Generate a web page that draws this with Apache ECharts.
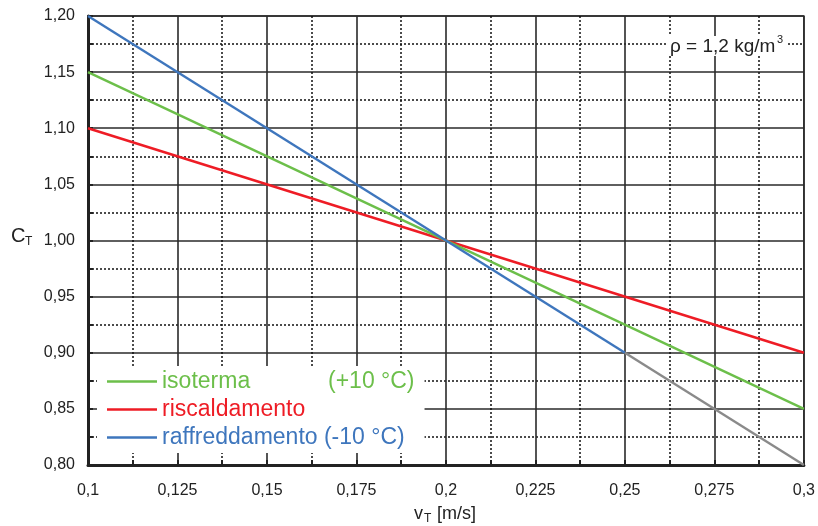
<!DOCTYPE html>
<html>
<head>
<meta charset="utf-8">
<script src="https://cdn.jsdelivr.net/npm/echarts@6/dist/echarts.min.js"></script>
<style>html,body{margin:0;padding:0;background:#fff}#c{width:818px;height:526px}</style>
</head>
<body>
<div id="c"></div>
<script>
// ---- data ----
const vT = [0.1, 0.3];
const isoterma = [1.15, 0.85];
const riscaldamento = [1.10, 0.90];
const raffreddamentoX = [0.1, 0.25];
const raffreddamento = [1.20, 0.90];
const prolungamentoX = [0.25, 0.3];
const prolungamento = [0.90, 0.80];
const seriesNames = ['isoterma', 'riscaldamento', 'raffreddamento'];

const zip = (xs, ys) => xs.map((x, i) => [x, ys[i]]);
const FONT = 'Liberation Sans, Arial, sans-serif';
const GREEN = '#6cbf4a', RED = '#ee1c25', BLUE = '#3e76bd', GREY = '#8a8a8a';

const chart = echarts.init(document.getElementById('c'));
chart.setOption({
  animation: false,
  backgroundColor: '#fff',
  grid: { left: 88, right: 12, top: 16, bottom: 61, show: true, borderColor: '#333', borderWidth: 1.5 },
  xAxis: {
    type: 'value', min: 0.1, max: 0.3, interval: 0.025,
    axisLine: { show: true, onZero: false, lineStyle: { color: '#222', width: 3 } },
    axisTick: { show: true, inside: true, length: 5, lineStyle: { color: '#222', width: 2 } },
    minorTick: { show: true, splitNumber: 2, length: 5, lineStyle: { color: '#222', width: 2 } },
    splitLine: { show: true, lineStyle: { color: '#2a2a2a', width: 1.6 } },
    minorSplitLine: { show: true, lineStyle: { color: '#111', width: 1.5, type: [2, 2] } },
    axisLabel: { margin: 18, color: '#222', fontSize: 16, fontFamily: FONT,
      formatter: v => String(parseFloat(v.toFixed(4))).replace('.', ',') }
  },
  yAxis: {
    type: 'value', min: 0.8, max: 1.2, interval: 0.05,
    axisLine: { show: true, onZero: false, lineStyle: { color: '#222', width: 3 } },
    axisTick: { show: true, inside: true, length: 5, lineStyle: { color: '#222', width: 2 } },
    minorTick: { show: true, splitNumber: 2, length: 5, lineStyle: { color: '#222', width: 2 } },
    splitLine: { show: true, lineStyle: { color: '#2a2a2a', width: 1.6 } },
    minorSplitLine: { show: true, lineStyle: { color: '#111', width: 1.5, type: [2, 2] } },
    axisLabel: { margin: 13, color: '#222', fontSize: 16, fontFamily: FONT,
      formatter: v => v.toFixed(2).replace('.', ',') }
  },
  legend: {
    orient: 'vertical', left: 97, top: 366,
    padding: [4, 10, 4, 10], backgroundColor: '#fff',
    icon: 'rect', itemWidth: 50, itemHeight: 2.5, itemGap: 5,
    data: seriesNames,
    selectedMode: false,
    textStyle: { fontSize: 23, fontFamily: FONT,
      rich: {
        g: { color: GREEN, fontSize: 23, fontFamily: FONT, width: 166 },
        g2: { color: GREEN, fontSize: 23, fontFamily: FONT },
        r: { color: RED, fontSize: 23, fontFamily: FONT },
        b: { color: BLUE, fontSize: 23, fontFamily: FONT }
      } },
    formatter: name => name === 'isoterma' ? '{g|isoterma}{g2|(+10 °C)}'
      : name === 'riscaldamento' ? '{r|riscaldamento}' : '{b|raffreddamento (-10 °C)}'
  },
  series: [
    { name: 'riscaldamento', type: 'line', data: zip(vT, riscaldamento), symbol: 'none',
      lineStyle: { color: RED, width: 2.4 }, itemStyle: { color: RED } },
    { name: 'isoterma', type: 'line', data: zip(vT, isoterma), symbol: 'none',
      lineStyle: { color: GREEN, width: 2.4 }, itemStyle: { color: GREEN } },
    { name: 'raffreddamento', type: 'line', data: zip(raffreddamentoX, raffreddamento), symbol: 'none',
      lineStyle: { color: BLUE, width: 2.4 }, itemStyle: { color: BLUE } },
    { name: 'prolungamento', type: 'line', data: zip(prolungamentoX, prolungamento), symbol: 'none',
      lineStyle: { color: GREY, width: 2.4 }, itemStyle: { color: GREY } }
  ],
  graphic: [
    { type: 'rect', shape: { x: 668, y: 36, width: 120, height: 20 }, style: { fill: '#fff' }, z: 100 },
    { type: 'text', x: 670, y: 47, z: 101,
      style: { text: 'ρ = 1,2 kg/m', font: '19px ' + FONT, fill: '#222', textVerticalAlign: 'middle' } },
    { type: 'text', x: 777, y: 40, z: 101,
      style: { text: '3', font: '11px ' + FONT, fill: '#222', textVerticalAlign: 'middle' } },
    { type: 'text', x: 11, y: 236, z: 101,
      style: { text: 'C', font: '20px ' + FONT, fill: '#222', textVerticalAlign: 'middle' } },
    { type: 'text', x: 25, y: 242, z: 101,
      style: { text: 'T', font: '12px ' + FONT, fill: '#222', textVerticalAlign: 'middle' } },
    { type: 'text', x: 414, y: 514, z: 101,
      style: { text: 'v', font: '18px ' + FONT, fill: '#222', textVerticalAlign: 'middle' } },
    { type: 'text', x: 424, y: 519, z: 101,
      style: { text: 'T', font: '12px ' + FONT, fill: '#222', textVerticalAlign: 'middle' } },
    { type: 'text', x: 437, y: 514, z: 101,
      style: { text: '[m/s]', font: '18px ' + FONT, fill: '#222', textVerticalAlign: 'middle' } }
  ]
});
</script>
</body>
</html>
